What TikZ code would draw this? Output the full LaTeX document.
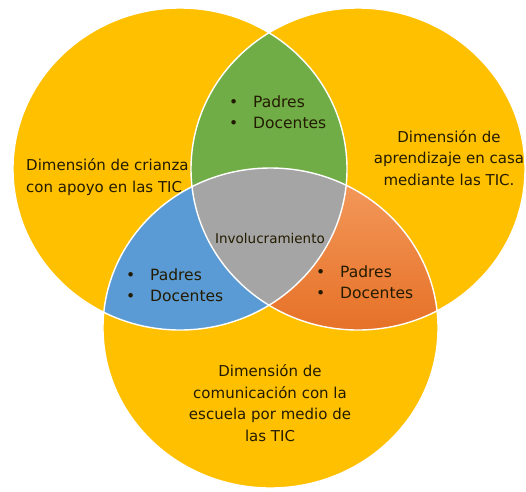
\documentclass[tikz,border=0pt]{standalone}
\usepackage{fontspec}
\setmainfont{DejaVu Sans}
\definecolor{gold}{HTML}{FFC000}
\definecolor{leafgreen}{HTML}{70AD47}
\definecolor{skyblue}{HTML}{5B9BD5}
\definecolor{corangel}{HTML}{F49B5E}
\definecolor{coranged}{HTML}{E56D22}
\definecolor{coregray}{HTML}{A5A5A5}
\definecolor{ink}{HTML}{231B00}
\newcommand{\dimL}{(180,169) ellipse [x radius=167, y radius=161]}
\newcommand{\dimR}{(358,169) ellipse [x radius=167, y radius=161]}
\newcommand{\dimB}{(270.5,328) ellipse [x radius=167.5, y radius=160]}
\newcommand{\itm}[1]{\makebox[24pt][l]{\textbullet}#1}
\begin{document}
\begin{tikzpicture}[x=1pt, y=-1pt,
        rim/.style={draw=white, line width=1.4pt},
        dimtext/.style={font=\fontsize{15}{21.5}\selectfont, text=ink, inner sep=0pt},
        listtext/.style={font=\fontsize{15.5}{21.5}\selectfont, text=ink, align=left, anchor=west, inner sep=0pt},
        coretext/.style={font=\fontsize{13.5}{14}\selectfont, text=ink, inner sep=0pt},
      ]
      \useasboundingbox (0,0) rectangle (526,491);

      %Circles
      \fill[gold] \dimL;
      \fill[gold] \dimR;
      \fill[gold] \dimB;

      %Overlaps
      \begin{scope}
        \clip \dimL; \clip \dimR;
        \fill[leafgreen] (0,0) rectangle (526,491);
      \end{scope}
      \begin{scope}
        \clip \dimL; \clip \dimB;
        \fill[skyblue] (0,0) rectangle (526,491);
      \end{scope}
      \begin{scope}
        \clip \dimR; \clip \dimB;
        \shade[top color=corangel, bottom color=coranged] (180,170) rectangle (450,345);
      \end{scope}
      \begin{scope}
        \clip \dimL; \clip \dimR; \clip \dimB;
        \fill[coregray] (0,0) rectangle (526,491);
      \end{scope}

      %Outlines
      \draw[rim] \dimL;
      \draw[rim] \dimR;
      \draw[rim] \dimB;

      %Labels
      \node[dimtext, align=left, anchor=west] (crianza) at (26,177)
        {Dimensión de crianza\\con apoyo en las TIC};
      \node[dimtext, align=center] (aprendizaje) at (449,158)
        {Dimensión de\\aprendizaje en casa\\mediante las TIC.};
      \node[dimtext, align=center] (comunicacion) at (270,403)
        {Dimensión de\\comunicación con la\\escuela por medio de\\las TIC};

      \node[listtext] (top) at (229,112) {\itm{Padres}\\\itm{Docentes}};
      \node[listtext] (left) at (126,285) {\itm{Padres}\\\itm{Docentes}};
      \node[listtext] (right) at (316,282) {\itm{Padres}\\\itm{Docentes}};

      \node[coretext] (core) at (270,238) {Involucramiento};
    \end{tikzpicture}
\end{document}
